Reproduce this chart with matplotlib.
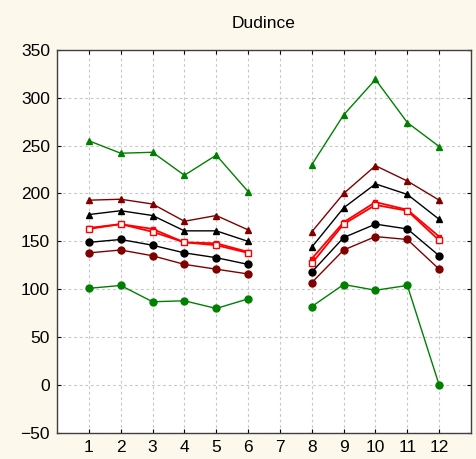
import numpy as np
import matplotlib
matplotlib.use("Agg")
import matplotlib.pyplot as plt

plt.rcParams['font.family'] = ['Liberation Sans', 'DejaVu Sans']

months = [1, 2, 3, 4, 5, 6, 7, 8, 9, 10, 11, 12]
nan = np.nan

max_green = [255, 242, 243, 219, 240, 202, nan, 230, 282, 319, 274, 249]
p95_darkred = [193, 194, 189, 171, 177, 162, nan, 160, 200, 229, 213, 193]
p75_black = [178, 182, 177, 161, 161, 150, nan, 144, 185, 210, 199, 173]
mean_red = [164, 168, 163, 149, 148, 139, nan, 132, 170, 191, 183, 155]
median_red = [163, 168, 160, 149, 146, 138, nan, 127, 168, 188, 182, 151]
p25_black = [149, 152, 146, 138, 133, 126, nan, 118, 154, 168, 163, 135]
p5_darkred = [138, 141, 135, 126, 121, 116, nan, 107, 141, 155, 152, 121]
min_green = [101, 104, 87, 88, 80, 90, nan, 82, 105, 99, 104, 0]

x_ticks = list(range(1, 13))
y_ticks = [-50, 0, 50, 100, 150, 200, 250, 300, 350]

bg = '#fdf8ec'
fig = plt.figure(figsize=(4.77, 4.59), dpi=100, facecolor=bg)
ax = fig.add_axes([0.1195, 0.0566, 0.868, 0.835])
ax.set_facecolor('white')

green = '#008000'
darkred = '#800000'
red = '#ff0000'

ax.plot(months, max_green, color=green, lw=1, marker='^', ms=5)
ax.plot(months, p95_darkred, color=darkred, lw=1, marker='^', ms=5)
ax.plot(months, p75_black, color='black', lw=1, marker='^', ms=5)
ax.plot(months, mean_red, color=red, lw=1.3, marker='s', ms=3.5)
ax.plot(months, median_red, color=red, lw=1.3, marker='s', ms=5,
        mfc='white', mec=red, mew=1)
ax.plot(months, p25_black, color='black', lw=1, marker='o', ms=5)
ax.plot(months, p5_darkred, color=darkred, lw=1, marker='o', ms=5)
ax.plot(months, min_green, color=green, lw=1, marker='o', ms=5)

ax.set_xlim(0, 13)
ax.set_ylim(-50, 350)
ax.set_xticks(x_ticks)
ax.set_yticks(y_ticks)
ax.grid(True, color='#c8c8c8', ls=(0, (2.5, 2.5)), lw=0.8)
ax.set_axisbelow(True)
ax.tick_params(direction='in', length=3, top=True, right=True,
               labelsize=12.5, colors='black', pad=5)
for s in ax.spines.values():
    s.set_color('#404040')
    s.set_linewidth(1)

ax.set_title('Dudince', fontsize=12.5, pad=16)

fig.savefig('out.png', dpi=100, facecolor=bg)
